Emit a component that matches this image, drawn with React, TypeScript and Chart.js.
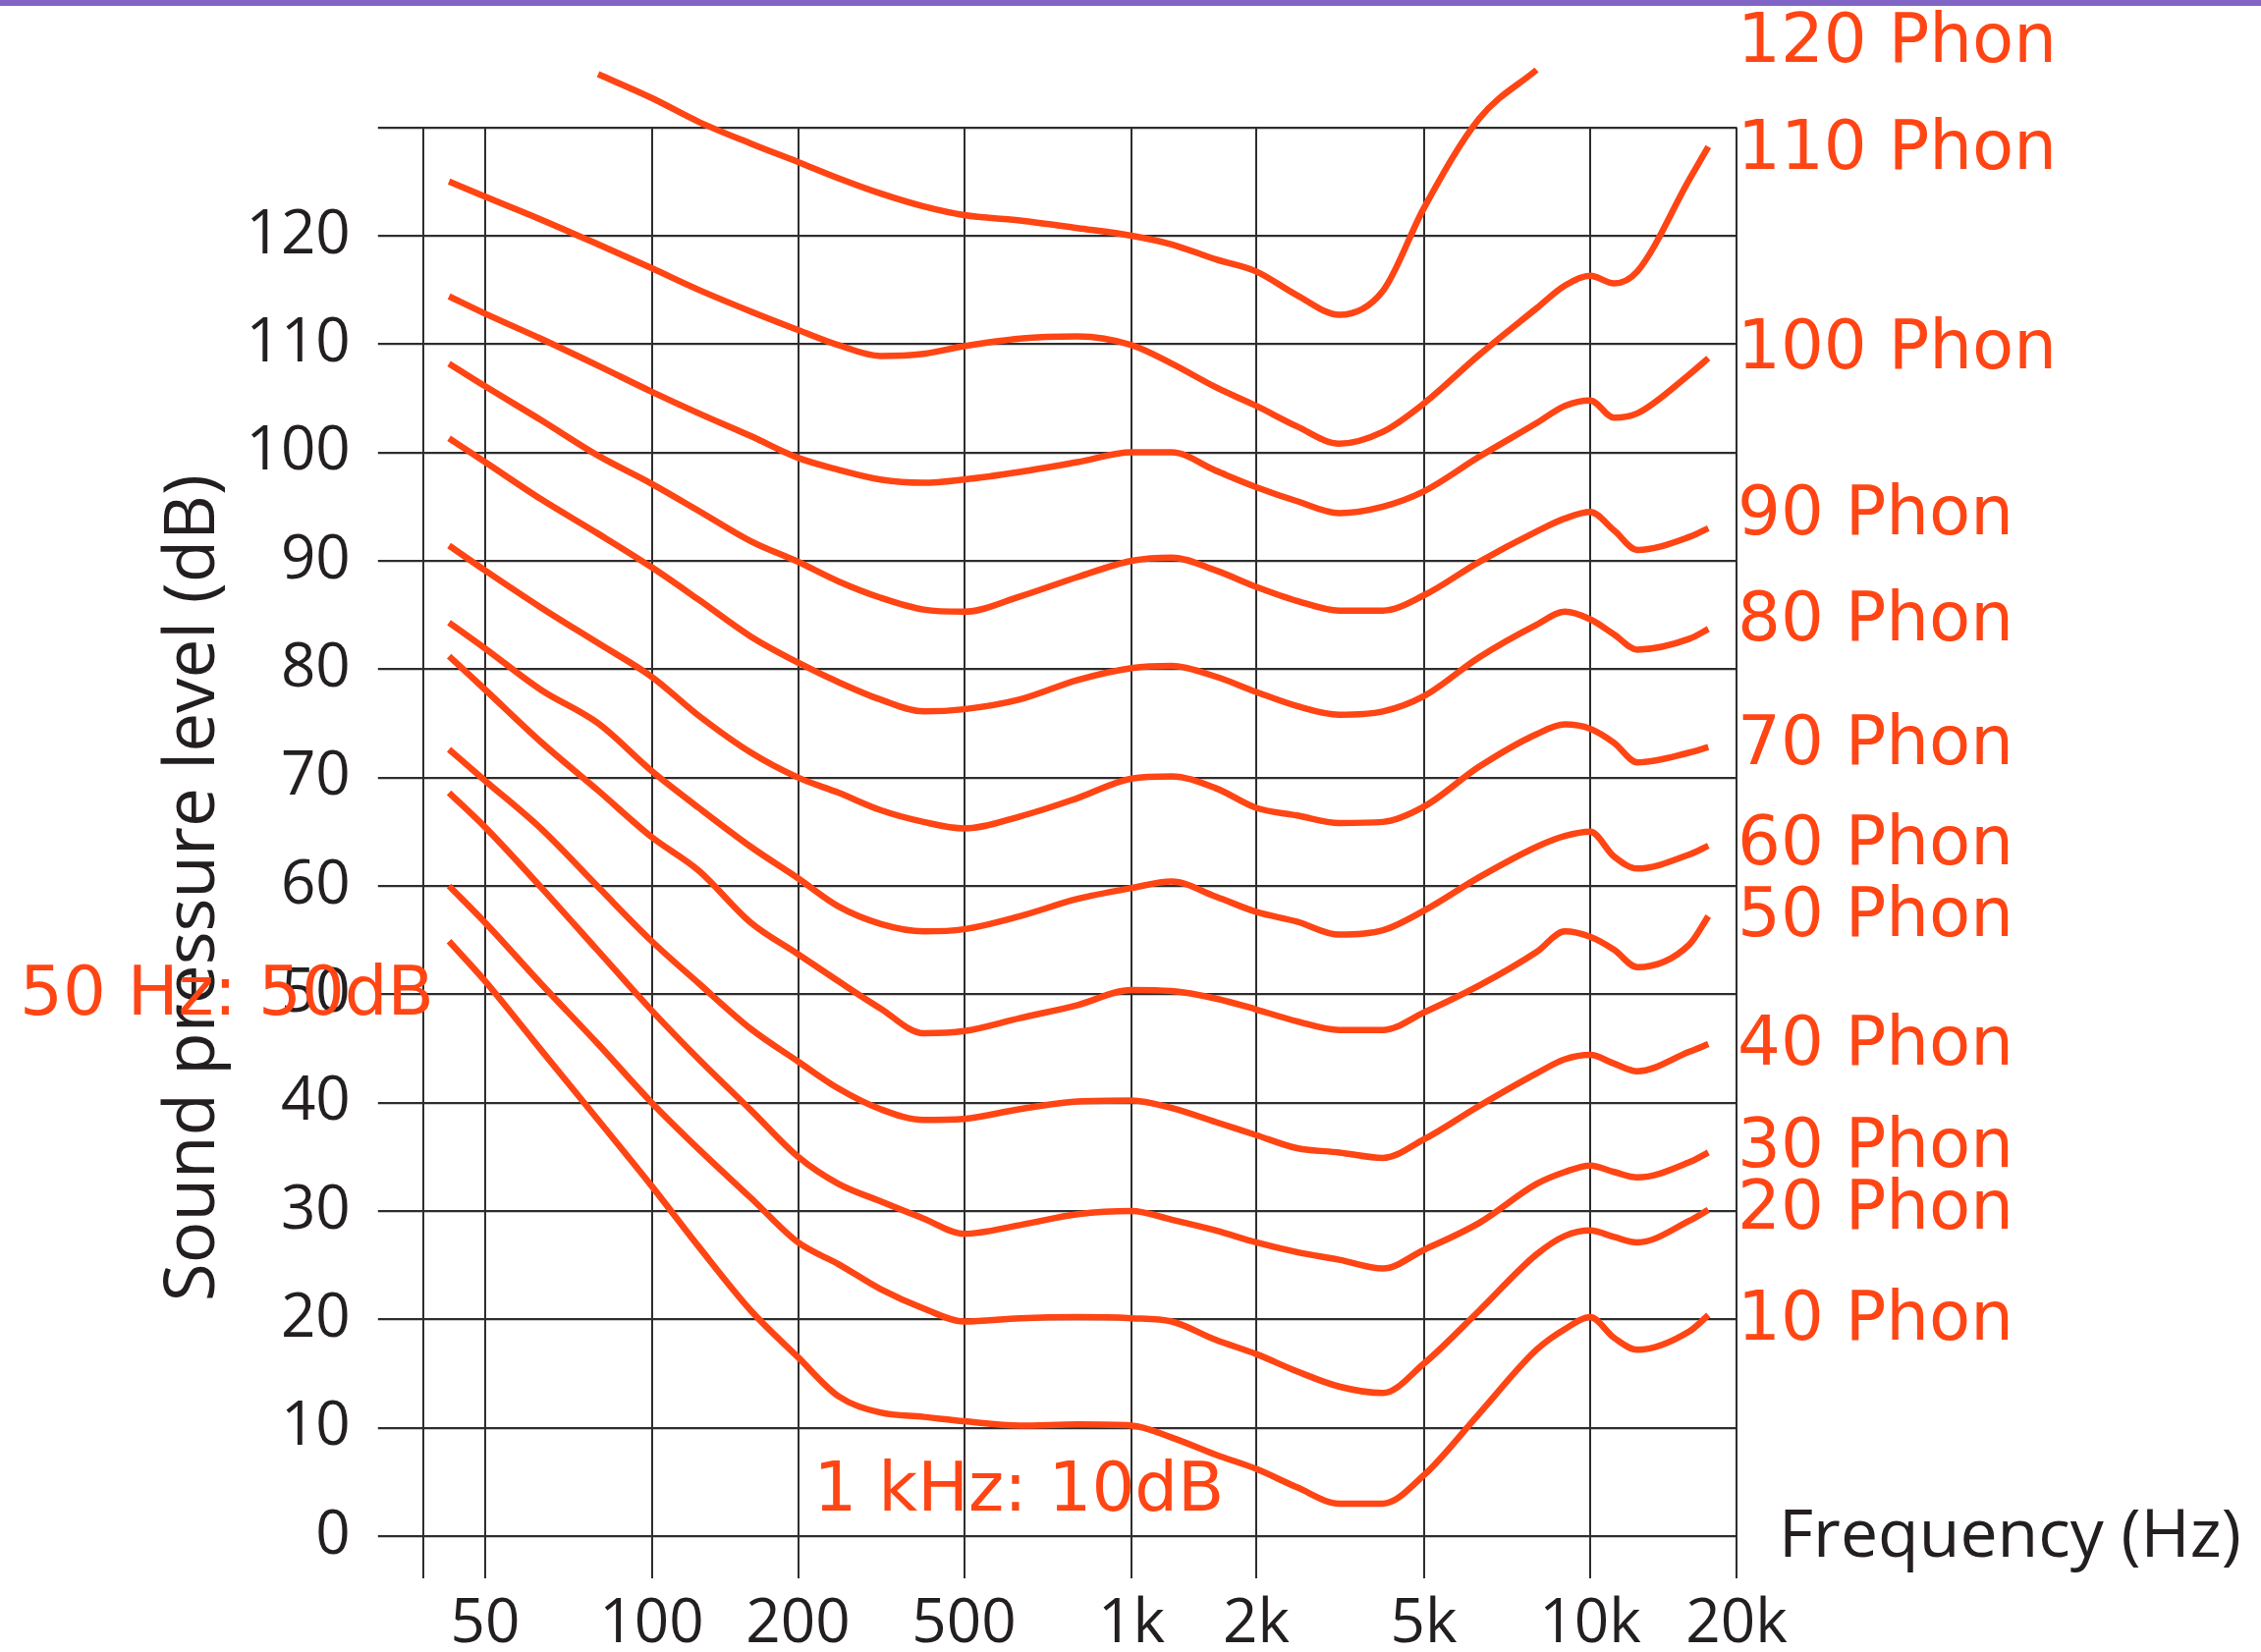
import React, { useEffect, useRef } from 'react';
import { Chart, registerables } from 'chart.js';

Chart.register(...registerables);

// ---- Data -------------------------------------------------------------
const FREQS = [43, 50, 63, 80, 100, 125, 160, 200, 250, 315, 400, 500, 630, 800, 1000, 1250, 1600, 2000, 2500, 3150, 4000, 5000, 6300, 8000, 9000, 10000, 11200, 12500, 16000, 17500];

const PHON_120 = [null, null, null, 134.9, 132.7, 130.5, 128.5, 126.8, 125.3, 123.9, 122.7, 121.9, 121.4, 120.7, 120.0, 119.2, 117.8, 116.7, 114.5, 112.7, 114.9, 122.5, 130.8, 135.3, null, null, null, null, null, null];
const PHON_110 = [125.0, 123.6, 121.5, 119.2, 117.0, 115.0, 113.0, 111.3, 109.9, 108.9, 109.1, 109.8, 110.5, 110.7, 109.9, 108.2, 106.0, 104.3, 102.4, 100.8, 101.9, 104.5, 109.0, 113.3, 115.4, 116.3, 115.6, 116.7, 125.2, 128.2];
const PHON_100 = [114.4, 112.8, 110.5, 108.0, 105.6, 103.6, 101.5, 99.5, 98.4, 97.5, 97.2, 97.5, 98.2, 99.1, 100.0, 100.0, 98.3, 96.8, 95.5, 94.4, 95.0, 96.4, 99.6, 102.7, 104.3, 104.8, 103.2, 103.6, 107.2, 108.7];
const PHON_90 = [108.2, 106.1, 103.0, 99.7, 97.1, 94.6, 91.8, 89.9, 88.1, 86.6, 85.5, 85.3, 86.7, 88.5, 90.0, 90.3, 89.1, 87.6, 86.3, 85.4, 85.4, 86.8, 89.9, 92.7, 93.9, 94.5, 92.8, 91.0, 92.2, 93.0];
const PHON_80 = [101.3, 99.1, 95.7, 92.5, 89.4, 86.4, 83.0, 80.6, 78.8, 77.2, 76.1, 76.3, 77.2, 79.0, 80.1, 80.3, 79.3, 77.9, 76.6, 75.8, 76.1, 77.5, 81.1, 84.1, 85.3, 84.6, 83.2, 81.8, 82.8, 83.7];
const PHON_70 = [91.4, 89.1, 85.7, 82.4, 79.3, 75.7, 72.3, 70.0, 68.6, 67.0, 65.9, 65.3, 66.4, 68.1, 69.9, 70.1, 69.0, 67.2, 66.5, 65.8, 65.9, 67.3, 71.0, 74.0, 74.9, 74.5, 73.2, 71.4, 72.3, 72.8];
const PHON_60 = [84.3, 81.9, 78.1, 75.0, 70.6, 67.2, 63.6, 60.7, 58.1, 56.5, 55.8, 56.0, 57.2, 58.8, 59.8, 60.4, 59.0, 57.6, 56.7, 55.5, 55.9, 57.7, 60.8, 63.6, 64.6, 65.0, 62.7, 61.6, 62.9, 63.7];
const PHON_50 = [81.2, 78.1, 73.3, 68.8, 64.5, 61.4, 56.6, 53.7, 51.2, 48.7, 46.4, 46.6, 47.8, 49.0, 50.4, 50.3, 49.6, 48.6, 47.5, 46.7, 46.7, 48.3, 50.8, 53.9, 55.8, 55.3, 54.1, 52.5, 54.6, 57.2];
const PHON_40 = [72.6, 69.7, 65.3, 59.9, 54.9, 51.0, 46.8, 43.8, 41.3, 39.4, 38.4, 38.5, 39.4, 40.1, 40.2, 39.5, 38.2, 37.0, 35.8, 35.4, 34.9, 36.6, 39.7, 42.7, 44.0, 44.4, 43.6, 42.9, 44.7, 45.4];
const PHON_30 = [68.6, 65.4, 59.9, 54.0, 48.5, 44.0, 39.3, 35.0, 32.5, 30.9, 29.3, 27.9, 28.7, 29.7, 30.0, 29.2, 28.2, 27.1, 26.2, 25.5, 24.7, 26.4, 28.9, 32.5, 33.6, 34.2, 33.6, 33.1, 34.5, 35.4];
const PHON_20 = [60.0, 56.6, 51.0, 45.4, 40.0, 35.7, 31.2, 27.1, 25.1, 22.8, 21.0, 19.8, 20.1, 20.2, 20.1, 19.8, 18.1, 16.8, 15.2, 13.8, 13.2, 15.9, 20.8, 26.0, 27.7, 28.2, 27.6, 27.1, 29.1, 30.1];
const PHON_10 = [54.9, 51.2, 44.9, 38.4, 32.3, 26.7, 20.8, 16.5, 12.9, 11.4, 11.0, 10.6, 10.2, 10.3, 10.2, 9.1, 7.5, 6.2, 4.5, 3.0, 3.0, 5.6, 11.3, 17.2, 19.1, 20.2, 18.3, 17.2, 18.9, 20.4];

const SERIES = [PHON_120, PHON_110, PHON_100, PHON_90, PHON_80, PHON_70, PHON_60, PHON_50, PHON_40, PHON_30, PHON_20, PHON_10];
const PHON_NAMES = ['120 Phon', '110 Phon', '100 Phon', '90 Phon', '80 Phon', '70 Phon', '60 Phon', '50 Phon', '40 Phon', '30 Phon', '20 Phon', '10 Phon'];
// dB level at which each phon label's baseline sits (right of the plot)
const PHON_LABEL_DB = [136.0, 126.2, 107.8, 92.4, 82.7, 71.2, 62.0, 55.4, 43.5, 34.1, 28.4, 18.1];

// X axis: frequency ticks and their (irregular) positions along the axis
const TICK_FREQS = [50, 100, 200, 500, 1000, 2000, 5000, 10000, 20000];
const TICK_LABELS = ['50', '100', '200', '500', '1k', '2k', '5k', '10k', '20k'];
const TICK_SLOTS = [0, 1, 1.879, 2.876, 3.882, 4.631, 5.637, 6.637, 7.516];
const X_MIN_SLOT = -0.373;

const Y_MIN = 0;
const Y_MAX = 130;
const Y_STEP = 10;

const Y_TITLE = 'Sound pressure level (dB)';
const X_TITLE = 'Frequency (Hz)';
const NOTE_LOW = '50 Hz: 50dB';
const NOTE_MID = '1 kHz: 10dB';
const NOTE_MID_FREQ = 218;
const NOTE_MID_DB = 2.4;
const NOTE_LOW_DB = 48.1;

// ---- Styles -----------------------------------------------------------
const RED = '#ff4514';
const GRID = '#2e2e2e';
const TEXT = '#231f20';
const PURPLE = '#8065c6';
const TICK_FONT = '"Open Sans", sans-serif';
const TITLE_FONT = '"Open Sans", sans-serif';
const HAND_FONT = '"DejaVu Sans", sans-serif';

function freqToSlot(f: number): number {
  let i = 0;
  while (i < TICK_FREQS.length - 2 && f > TICK_FREQS[i + 1]) i++;
  const f0 = TICK_FREQS[i];
  const f1 = TICK_FREQS[i + 1];
  const s0 = TICK_SLOTS[i];
  const s1 = TICK_SLOTS[i + 1];
  return s0 + ((s1 - s0) * Math.log(f / f0)) / Math.log(f1 / f0);
}

const overlayPlugin = {
  id: 'overlay',
  afterDraw(chart: any) {
    const { ctx, chartArea, scales } = chart;
    const xs = scales.x;
    const ys = scales.y;
    ctx.save();
    // purple top rule
    ctx.fillStyle = PURPLE;
    ctx.fillRect(0, 0, chart.width, 6);

    // y title (rotated)
    ctx.fillStyle = TEXT;
    ctx.font = `71px ${TITLE_FONT}`;
    ctx.textAlign = 'center';
    ctx.textBaseline = 'alphabetic';
    ctx.save();
    ctx.translate(218, ys.getPixelForValue(59.8));
    ctx.rotate(-Math.PI / 2);
    ctx.fillText(Y_TITLE, 0, 0);
    ctx.restore();

    // x title
    ctx.font = `68px ${TITLE_FONT}`;
    ctx.textAlign = 'left';
    ctx.fillText(X_TITLE, chartArea.right + 43, ys.getPixelForValue(0) + 21);

    // phon labels and notes
    ctx.fillStyle = RED;
    ctx.font = `69px ${HAND_FONT}`;
    ctx.textAlign = 'left';
    PHON_NAMES.forEach((name, i) => {
      ctx.fillText(name, chartArea.right + 1, ys.getPixelForValue(PHON_LABEL_DB[i]));
    });
    ctx.fillText(NOTE_LOW, 20, ys.getPixelForValue(NOTE_LOW_DB));
    ctx.fillText(NOTE_MID, xs.getPixelForValue(freqToSlot(NOTE_MID_FREQ)), ys.getPixelForValue(NOTE_MID_DB));
    ctx.restore();
  },
};

export default function App() {
  const canvasRef = useRef<HTMLCanvasElement | null>(null);

  useEffect(() => {
    document.body.style.margin = '0';
    const canvas = canvasRef.current;
    if (!canvas) return;

    const datasets = SERIES.map((series, si) => ({
      label: PHON_NAMES[si],
      data: FREQS.map((f, i) => ({ x: freqToSlot(f), y: series[i] })).filter((p) => p.y !== null),
      borderColor: RED,
      backgroundColor: RED,
      borderWidth: 6.5,
      pointRadius: 0,
      fill: false,
      clip: false,
      cubicInterpolationMode: 'monotone' as const,
      borderCapStyle: 'butt' as const,
      borderJoinStyle: 'round' as const,
    }));

    const chart = new Chart(canvas, {
      type: 'line',
      data: { datasets },
      options: {
        responsive: false,
        animation: false,
        devicePixelRatio: 1,
        layout: { padding: { top: 129.6, right: 534, left: 0, bottom: 0 } },
        plugins: {
          legend: { display: false },
          tooltip: { enabled: false },
          title: { display: false },
        },
        scales: {
          x: {
            type: 'linear',
            min: X_MIN_SLOT,
            max: TICK_SLOTS[TICK_SLOTS.length - 1],
            afterBuildTicks: (scale: any) => {
              scale.ticks = [X_MIN_SLOT, ...TICK_SLOTS].map((v) => ({ value: v }));
            },
            afterFit: (scale: any) => {
              scale.height = 118;
            },
            grid: { color: GRID, lineWidth: 2, tickLength: 43, drawTicks: true },
            border: { display: false },
            ticks: {
              autoSkip: false,
              maxRotation: 0,
              minRotation: 0,
              padding: 10,
              color: TEXT,
              font: { family: TICK_FONT, size: 62 },
              callback: (_v: any, i: number) => (i === 0 ? '' : TICK_LABELS[i - 1]),
            },
          },
          y: {
            type: 'linear',
            min: Y_MIN,
            max: Y_MAX,
            afterFit: (scale: any) => {
              scale.width = 430.8;
            },
            grid: { color: GRID, lineWidth: 2.2, tickLength: 46, drawTicks: true },
            border: { display: false },
            ticks: {
              stepSize: Y_STEP,
              padding: 28,
              color: TEXT,
              font: { family: TICK_FONT, size: 62 },
              callback: (v: any) => (v === Y_MAX ? '' : String(v)),
            },
          },
        },
      },
      plugins: [overlayPlugin],
    });

    return () => chart.destroy();
  }, []);

  return (
    <div style={{ width: 2302, height: 1682, background: '#ffffff' }}>
      <canvas ref={canvasRef} width={2302} height={1682} style={{ display: 'block', width: 2302, height: 1682 }} />
    </div>
  );
}
